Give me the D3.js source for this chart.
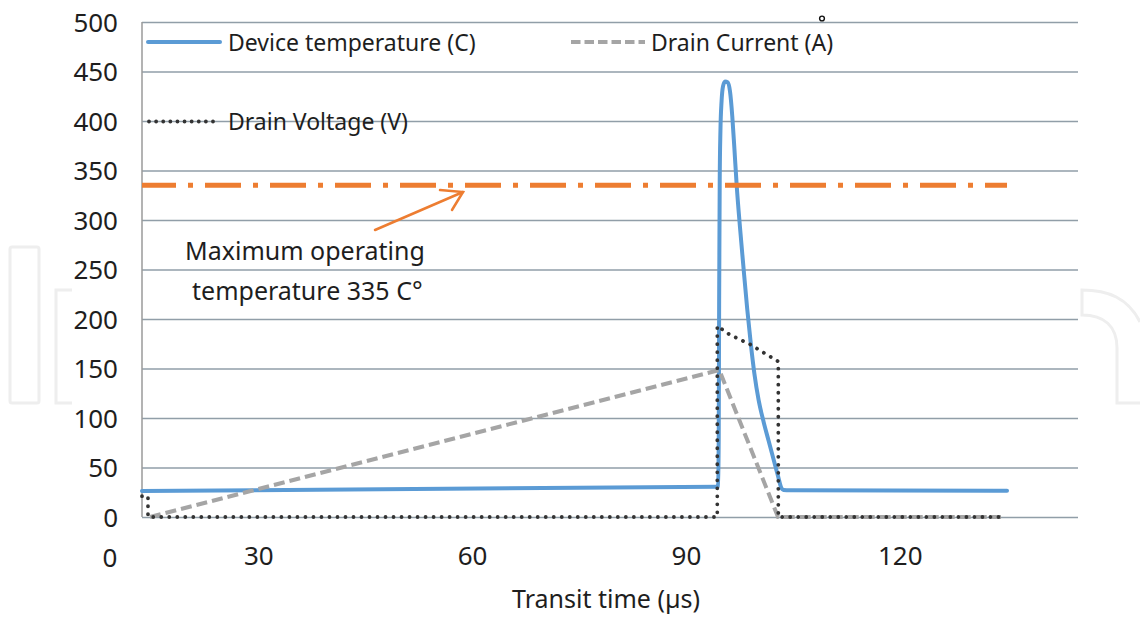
<!DOCTYPE html>
<html>
<head>
<meta charset="utf-8">
<script src="https://cdn.jsdelivr.net/npm/d3@7/dist/d3.min.js"></script>
<style>
  html, body { margin: 0; padding: 0; background: #fff; }
  svg { display: block; font-family: "Noto Sans", "Open Sans", sans-serif; }
</style>
</head>
<body>
<svg id="chart" width="1140" height="620"></svg>
<script>
// ---------------- data ----------------
const yTicks = [0, 50, 100, 150, 200, 250, 300, 350, 400, 450, 500];
const xTicks = [30, 60, 90, 120];
const xOriginLabel = "0";
const xTitle = "Transit time (\u00b5s)";

// Device temperature (C)
const tempTime  = [13.68, 94.35, 94.52, 94.6, 94.66, 94.74, 94.84, 95.0, 95.2, 95.48, 95.86, 96.18, 96.5, 96.8, 97.12, 97.59, 98.05, 98.6, 99.1, 99.6, 100.2, 100.9, 101.6, 102.3, 102.9, 103.35, 103.7, 104.6, 135.05];
const tempValue = [26.3, 30.5, 31, 80, 220, 340, 390, 420, 435, 440, 439, 430, 405, 372, 335, 292, 254, 210, 175, 145, 118, 96, 77, 58, 42, 30, 27.2, 26.9, 26.6];

// Drain Current (A)
const currentTime  = [14.8, 94.68, 102.92, 134.21];
const currentValue = [0, 148.5, 0, 0];

// Drain Voltage (V)
const voltageTime  = [13.68, 14.52, 14.52, 94.4, 94.4, 96.18, 98.85, 102.96, 102.96, 134.21];
const voltageValue = [21, 21, 0, 0, 193, 184, 175, 157, 0, 0];

// Maximum operating temperature
const limitTime  = [13.68, 135.05];
const limitValue = 335;
const annotationLines = ["Maximum operating", "temperature 335 C\u00b0"];

const legendNames = ["Device temperature (C)", "Drain Current (A)", "Drain Voltage (V)"];

// ---------------- layout ----------------
const svg = d3.select("#chart");
const plot = { left: 142, right: 1078, top: 22, bottom: 517 };

const x = d3.scaleLinear().domain([13.68, 145.01]).range([plot.left, plot.right]);
const y = d3.scaleLinear().domain([0, 500]).range([plot.bottom, plot.top]);

const colors = { temp: "#5B9BD5", current: "#A5A5A5", voltage: "#333333", limit: "#ED7D31", grid: "#919ea8", text: "#1e1e1e" };

// watermark (faint outlined letters outside plot)
const wm = svg.append("g").attr("fill", "none").attr("stroke", "#eeeeee").attr("stroke-width", 3);
wm.append("rect").attr("x", 10).attr("y", 247).attr("width", 29).attr("height", 156).attr("rx", 2);
wm.append("path").attr("d", "M72,290 H56 V403 H72");
wm.append("path").attr("d", "M1140,322 C1128,298 1108,290 1082,290 V315 C1104,315 1117,326 1117,348 V403 H1140");

// gridlines
const gridAxis = d3.axisLeft(y).tickValues(yTicks).tickSize(-(plot.right - plot.left)).tickFormat("");
const grid = svg.append("g").attr("transform", `translate(${plot.left},0)`).call(gridAxis);
grid.select(".domain").remove();
grid.selectAll(".tick line").attr("stroke", colors.grid).attr("stroke-width", 1.5);

// left axis line
svg.append("line").attr("x1", plot.left).attr("x2", plot.left)
  .attr("y1", y(500)).attr("y2", y(0)).attr("stroke", "#9a9a9a").attr("stroke-width", 1.5);

// y tick labels
const yAxis = d3.axisLeft(y).tickValues(yTicks).tickSize(0).tickPadding(24);
const yg = svg.append("g").attr("transform", `translate(${plot.left},0)`).call(yAxis);
yg.select(".domain").remove();
yg.selectAll("text").attr("font-size", 26).attr("fill", colors.text)
  .attr("font-family", "Noto Sans").attr("dy", "0.36em");

// x tick labels
const xAxis = d3.axisBottom(x).tickValues(xTicks).tickSize(0).tickPadding(30);
const xg = svg.append("g").attr("transform", `translate(0,${plot.bottom})`).call(xAxis);
xg.select(".domain").remove();
xg.selectAll("text").attr("font-size", 26).attr("fill", colors.text)
  .attr("font-family", "Noto Sans").attr("dy", "0.71em");
// origin label sits under the y-axis label column
svg.append("text").attr("x", 110).attr("y", 567).attr("text-anchor", "middle")
  .attr("font-size", 26).attr("fill", colors.text).text(xOriginLabel);

// x title
svg.append("text").attr("x", 606).attr("y", 608).attr("text-anchor", "middle")
  .attr("font-size", 25).attr("fill", colors.text).text(xTitle);

// series
const line = d3.line().x(d => x(d[0])).y(d => y(d[1]));
const tempData = tempTime.map((t, i) => [t, tempValue[i]]);
const currentData = currentTime.map((t, i) => [t, currentValue[i]]);
const voltageData = voltageTime.map((t, i) => [t, voltageValue[i]]);

svg.append("path").datum(tempData)
  .attr("d", d3.line().x(d => x(d[0])).y(d => y(d[1])).curve(d3.curveMonotoneX))
  .attr("fill", "none").attr("stroke", colors.temp).attr("stroke-width", 4)
  .attr("stroke-linejoin", "round").attr("stroke-linecap", "round");

svg.append("path").datum(currentData).attr("d", line)
  .attr("fill", "none").attr("stroke", colors.current).attr("stroke-width", 4)
  .attr("stroke-dasharray", "11,5");

svg.append("path").datum(voltageData).attr("d", line)
  .attr("fill", "none").attr("stroke", colors.voltage).attr("stroke-width", 3.8)
  .attr("stroke-linecap", "round").attr("stroke-dasharray", "0.01,8");

// max operating temperature line
svg.append("line")
  .attr("x1", x(limitTime[0])).attr("x2", x(limitTime[1]))
  .attr("y1", y(limitValue)).attr("y2", y(limitValue))
  .attr("stroke", colors.limit).attr("stroke-width", 5)
  .attr("stroke-dasharray", "36,12,5,12").attr("stroke-dashoffset", 2);

// annotation arrow
const arrowFrom = [375, 230], arrowTo = [463, 192];
const ag = svg.append("g").attr("stroke", colors.limit).attr("stroke-width", 2.5).attr("fill", "none").attr("stroke-linecap", "round");
ag.append("line").attr("x1", arrowFrom[0]).attr("y1", arrowFrom[1]).attr("x2", arrowTo[0]).attr("y2", arrowTo[1]);
ag.append("path").attr("d", `M440,190 L${arrowTo[0]},${arrowTo[1]} L452,210`);

// annotation text
svg.append("text").attr("x", 185).attr("y", 260).attr("font-size", 25).attr("fill", colors.text).text(annotationLines[0]);
svg.append("text").attr("x", 192).attr("y", 300).attr("font-size", 25).attr("fill", colors.text).text(annotationLines[1]);

// legend
const lg = svg.append("g");
// Device temperature
lg.append("line").attr("x1", 148).attr("x2", 220).attr("y1", 42).attr("y2", 42)
  .attr("stroke", colors.temp).attr("stroke-width", 4).attr("stroke-linecap", "round");
lg.append("text").attr("x", 228).attr("y", 51).attr("font-size", 23).attr("fill", colors.text).text(legendNames[0]);
// Drain current
lg.append("line").attr("x1", 571).attr("x2", 645).attr("y1", 42).attr("y2", 42)
  .attr("stroke", colors.current).attr("stroke-width", 4).attr("stroke-dasharray", "9.5,4");
lg.append("text").attr("x", 651).attr("y", 51).attr("font-size", 23).attr("fill", colors.text).text(legendNames[1]);
// Drain voltage
lg.append("line").attr("x1", 149).attr("x2", 220).attr("y1", 121.5).attr("y2", 121.5)
  .attr("stroke", colors.voltage).attr("stroke-width", 3.8).attr("stroke-linecap", "round")
  .attr("stroke-dasharray", "0.01,7.1");
lg.append("text").attr("x", 228).attr("y", 130).attr("font-size", 23).attr("fill", colors.text).text(legendNames[2]);

// small stray marker above the plot
svg.append("circle").attr("cx", 822).attr("cy", 18.5).attr("r", 2.4)
  .attr("fill", "#fff").attr("stroke", "#111").attr("stroke-width", 1.4);
</script>
</body>
</html>
